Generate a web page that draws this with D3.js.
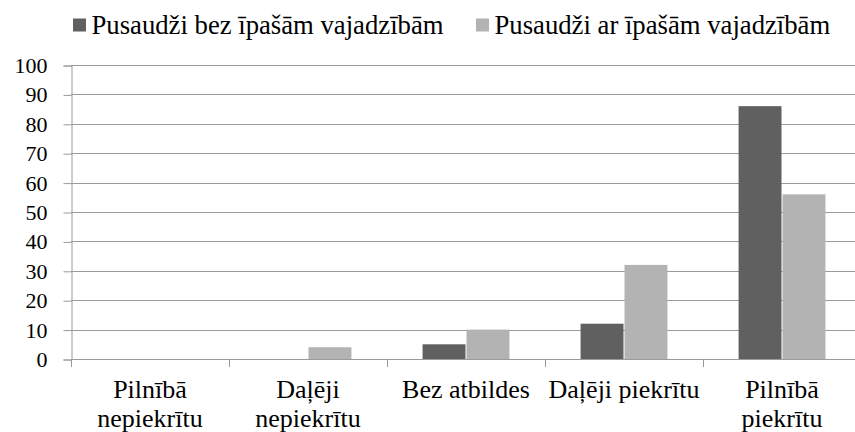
<!DOCTYPE html>
<html>
<head>
<meta charset="utf-8">
<script src="https://cdn.jsdelivr.net/npm/d3@7"></script>
<style>
html,body{margin:0;padding:0;background:#fff;}
svg{display:block;}
</style>
</head>
<body>
<svg id="chart" width="855" height="432"></svg>
<script>
const categories = ["Pilnībā nepiekrītu", "Daļēji nepiekrītu", "Bez atbildes", "Daļēji piekrītu", "Pilnībā piekrītu"];
const categoryLines = [["Pilnībā", "nepiekrītu"], ["Daļēji", "nepiekrītu"], ["Bez atbildes"], ["Daļēji piekrītu"], ["Pilnībā", "piekrītu"]];
const seriesNames = ["Pusaudži bez īpašām vajadzībām", "Pusaudži ar īpašām vajadzībām"];
const seriesBez = [0, 0, 5, 12, 86];
const seriesAr = [0, 4, 10, 32, 56];
const yTicks = [0, 10, 20, 30, 40, 50, 60, 70, 80, 90, 100];
const colors = ["#606060", "#b3b3b3"];

(function() {
const FONT = '"Liberation Serif"';
const svg = d3.select("#chart");
const pl = 71, pr = 861, pt = 65, pb = 359;

const x0 = d3.scaleBand().domain(categories).range([pl, pr]).padding(0);
const bw = x0.bandwidth();
const gap = bw * 0.222;
const x1 = d3.scaleBand().domain(seriesNames).range([gap, bw - gap]).padding(0);
const y = d3.scaleLinear().domain([0, 100]).range([pb, pt]);

// gridlines
svg.append("g").selectAll("line").data(yTicks).join("line")
  .attr("x1", pl).attr("x2", 855)
  .attr("y1", d => Math.round(y(d)) + 0.5).attr("y2", d => Math.round(y(d)) + 0.5)
  .attr("stroke", "#9a9a9a").attr("stroke-width", 1);

// y axis
const yAxis = d3.axisLeft(y).tickValues(yTicks).tickSize(8).tickPadding(16);
const gy = svg.append("g").attr("transform", `translate(${pl + 0.5},0.5)`).call(yAxis);
gy.select(".domain").attr("stroke", "#9a9a9a");
gy.selectAll(".tick line").attr("stroke", "#9a9a9a");
gy.selectAll(".tick text").attr("fill", "#000")
  .style("font-family", FONT).style("font-size", "22px");

// bars
const data = categories.map((c, i) => ({cat: c, vals: [seriesBez[i], seriesAr[i]]}));
const groups = svg.append("g").selectAll("g").data(data).join("g")
  .attr("transform", d => `translate(${x0(d.cat)},0)`);
groups.selectAll("rect").data(d => d.vals.map((v, j) => ({name: seriesNames[j], v, j})))
  .join("rect")
  .attr("x", d => x1(d.name) + 0.5)
  .attr("width", x1.bandwidth() - 1)
  .attr("y", d => y(d.v))
  .attr("height", d => y(0) - y(d.v))
  .attr("fill", d => colors[d.j]);

// x axis
const xAxisLine = svg.append("g");
xAxisLine.append("line").attr("x1", pl).attr("x2", 855)
  .attr("y1", pb + 0.5).attr("y2", pb + 0.5).attr("stroke", "#9a9a9a");
const boundaries = categories.map(c => x0(c)).concat([x0(categories[categories.length-1]) + bw]);
xAxisLine.selectAll("line.tk").data(boundaries).join("line").attr("class", "tk")
  .attr("x1", d => Math.round(d) + 0.5).attr("x2", d => Math.round(d) + 0.5)
  .attr("y1", pb).attr("y2", pb + 8).attr("stroke", "#9a9a9a");

// category labels
const lab = svg.append("g").selectAll("text").data(categories).join("text")
  .attr("text-anchor", "middle")
  .style("font-family", FONT).style("font-size", "26px").attr("fill", "#000")
  .attr("x", c => x0(c) + bw / 2)
  .attr("y", 398);
lab.selectAll("tspan").data((c, i) => categoryLines[i]).join("tspan")
  .attr("x", function() { return d3.select(this.parentNode).attr("x"); })
  .attr("dy", (d, i) => i === 0 ? 0 : 29)
  .text(d => d);

// legend
const legendX = [73, 476];
const leg = svg.append("g").selectAll("g").data(seriesNames).join("g")
  .attr("transform", (d, i) => `translate(${legendX[i]},0)`);
leg.append("rect").attr("x", 0).attr("y", 18.5).attr("width", 13).attr("height", 13)
  .attr("fill", (d, i) => colors[i]);
leg.append("text").attr("x", 18.5).attr("y", 34)
  .style("font-family", FONT).style("font-size", "26.7px").attr("fill", "#000")
  .text(d => d);
})();
</script>
</body>
</html>
